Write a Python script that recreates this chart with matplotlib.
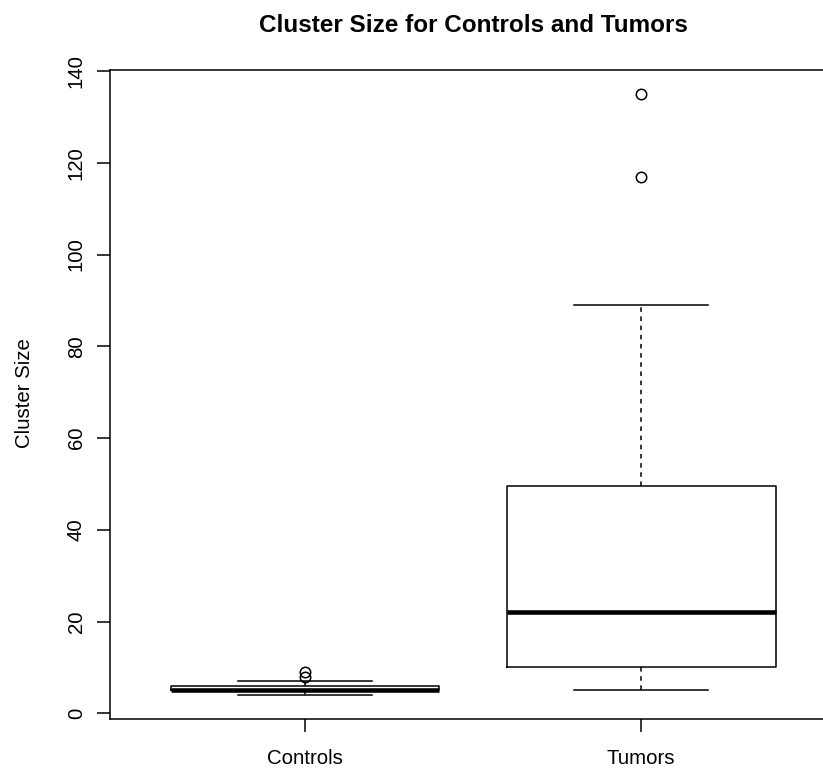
"""Cluster size boxplot: controls vs tumors (R base-graphics look)."""

import matplotlib

matplotlib.use("Agg")
import matplotlib.pyplot as plt

plt.rcParams["font.family"] = ["Liberation Sans", "DejaVu Sans"]

# five-number summaries
groups = ["Controls", "Tumors"]
whisker_low = [4, 5]
q1 = [5, 10]
medians = [5, 22]
q3 = [6, 49.5]
whisker_high = [7, 89]
outliers = [[8, 9], [117, 135]]
y_ticks = [0, 20, 40, 60, 80, 100, 120, 140]

W, H = 823, 769
fig = plt.figure(figsize=(W / 100, H / 100), dpi=100)
# plot region in pixels: left 110, right 836 (runs off the canvas), top 70, bottom 719
ax = fig.add_axes([110 / W, 1 - 719 / H, 726 / W, 649 / H])

stats = []
for i, name in enumerate(groups):
    stats.append(
        dict(
            label=name,
            whislo=whisker_low[i],
            q1=q1[i],
            med=medians[i],
            q3=q3[i],
            whishi=whisker_high[i],
            fliers=outliers[i],
        )
    )

lw = 1.1
ax.bxp(
    stats,
    positions=[1, 2],
    widths=0.8,
    showfliers=True,
    boxprops=dict(color="black", linewidth=lw),
    medianprops=dict(color="black", linewidth=3.3, solid_capstyle="butt"),
    whiskerprops=dict(color="black", linewidth=lw, linestyle=(0, (3, 3))),
    capprops=dict(color="black", linewidth=lw),
    capwidths=0.4,
    flierprops=dict(
        marker="o",
        markersize=7.5,
        markerfacecolor="none",
        markeredgecolor="black",
        markeredgewidth=lw,
    ),
)

ax.set_xlim(0.42, 2.58)
ax.set_ylim(-1.24, 140.24)
ax.set_yticks(y_ticks)
ax.set_yticklabels([str(v) for v in y_ticks], rotation=90, va="center")
ax.set_xticks([1, 2])
ax.set_xticklabels(groups)

for side in ["top", "right", "bottom", "left"]:
    ax.spines[side].set_linewidth(lw)
ax.tick_params(
    axis="both", direction="out", length=9.4, width=lw, labelsize=14.7, color="black"
)
ax.tick_params(axis="y", pad=8)
ax.tick_params(axis="x", pad=12)

fig.text(25 / W, 1 - 393 / H, "Cluster Size", rotation=90, fontsize=14.7,
         ha="center", va="center")
fig.text(473 / W, 1 - 26 / H, "Cluster Size for Controls and Tumors",
         fontsize=17.5, fontweight="bold", ha="center", va="center")

fig.savefig("out.png", dpi=100)
